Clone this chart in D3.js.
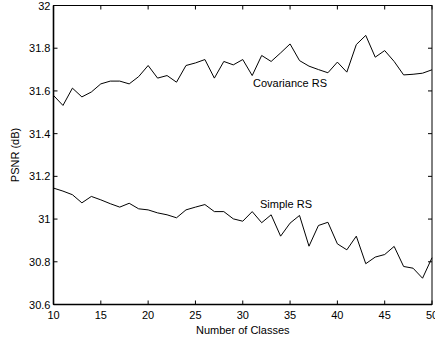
<!DOCTYPE html>
<html><head><meta charset="utf-8">
<script src="https://cdn.jsdelivr.net/npm/d3@7"></script>
<style>body{margin:0;background:#fff}svg{display:block}text{font-family:"Liberation Sans",Arial,sans-serif;}</style>
</head><body>
<svg id="c" width="435" height="343"></svg>
<script>
const classes = d3.range(10, 51);
const covarianceRS = [31.579,31.532,31.613,31.572,31.595,31.633,31.646,31.646,31.633,31.667,31.719,31.660,31.672,31.641,31.719,31.731,31.747,31.660,31.738,31.722,31.747,31.672,31.766,31.738,31.778,31.820,31.742,31.716,31.700,31.685,31.735,31.688,31.817,31.860,31.758,31.789,31.738,31.675,31.678,31.683,31.699];
const simpleRS = [31.145,31.131,31.114,31.076,31.106,31.090,31.072,31.056,31.074,31.048,31.043,31.029,31.020,31.006,31.043,31.056,31.068,31.035,31.035,31.001,30.990,31.035,30.983,31.020,30.920,30.981,31.017,30.873,30.970,30.985,30.884,30.856,30.920,30.791,30.822,30.834,30.872,30.778,30.770,30.723,30.819];
const xTicks = [10,15,20,25,30,35,40,45,50];
const yTicks = [30.6,30.8,31,31.2,31.4,31.6,31.8,32];

const svg = d3.select("#c");
const L=53.5, R=432, T=5.5, B=304.5;
const x = d3.scaleLinear().domain([10,50]).range([L,R]);
const y = d3.scaleLinear().domain([30.6,32]).range([B,T]);

const g = svg.append("g");
// box
g.append("rect").attr("x",L).attr("y",T).attr("width",R-L).attr("height",B-T)
 .attr("fill","none").attr("stroke","#000").attr("stroke-width",1);
g.append("line").attr("x1",L).attr("x2",L).attr("y1",T).attr("y2",B).attr("stroke","#000").attr("stroke-width",1.6);
g.append("line").attr("x1",L).attr("x2",R).attr("y1",B).attr("y2",B).attr("stroke","#000").attr("stroke-width",1.6);

const tl=4;
xTicks.forEach(t=>{
  g.append("line").attr("x1",x(t)).attr("x2",x(t)).attr("y1",B).attr("y2",B-tl).attr("stroke","#000");
  g.append("line").attr("x1",x(t)).attr("x2",x(t)).attr("y1",T).attr("y2",T+tl).attr("stroke","#000");
  g.append("text").attr("x",x(t)).attr("y",B+14).attr("text-anchor","middle").attr("font-size",11).text(t);
});
yTicks.forEach(t=>{
  g.append("line").attr("x1",L).attr("x2",L+tl).attr("y1",y(t)).attr("y2",y(t)).attr("stroke","#000");
  g.append("line").attr("x1",R).attr("x2",R-tl).attr("y1",y(t)).attr("y2",y(t)).attr("stroke","#000");
  g.append("text").attr("x",L-3).attr("y",y(t)+4).attr("text-anchor","end").attr("font-size",11).text(d3.format("")(t));
});

const line = d3.line().x((d,i)=>x(classes[i])).y(d=>y(d));
g.append("path").datum(covarianceRS).attr("d",line).attr("fill","none").attr("stroke","#000").attr("stroke-width",1);
g.append("path").datum(simpleRS).attr("d",line).attr("fill","none").attr("stroke","#000").attr("stroke-width",1);

g.append("text").attr("x",290).attr("y",87).attr("text-anchor","middle").attr("font-size",11).text("Covariance RS");
g.append("text").attr("x",286).attr("y",208).attr("text-anchor","middle").attr("font-size",11).text("Simple RS");

g.append("text").attr("x",(L+R)/2).attr("y",334).attr("text-anchor","middle").attr("font-size",11).text("Number of Classes");
g.append("text").attr("transform","translate(19,155) rotate(-90)").attr("text-anchor","middle").attr("font-size",11).text("PSNR (dB)");
</script>
</body></html>
